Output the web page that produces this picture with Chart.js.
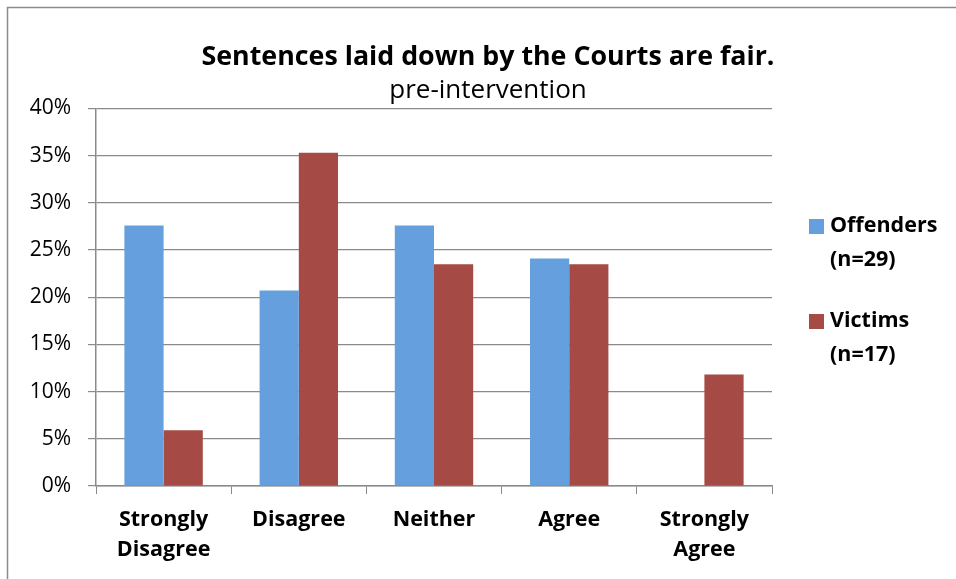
<!DOCTYPE html>
<html>
<head>
<meta charset="utf-8">
<script src="https://cdn.jsdelivr.net/npm/chart.js@4/dist/chart.umd.min.js"></script>
<style>
  html, body { margin: 0; padding: 0; background: #fff; }
  #wrap { width: 956px; height: 579px; }
</style>
</head>
<body>
<div id="wrap"><canvas id="chart" width="956" height="579"></canvas></div>
<script>
// Data
const categories = [['Strongly', 'Disagree'], 'Disagree', 'Neither', 'Agree', ['Strongly', 'Agree']];
const offenders = [0.276, 0.207, 0.276, 0.241, 0];
const victims = [0.059, 0.353, 0.235, 0.235, 0.118];
const seriesNames = [['Offenders', '(n=29)'], ['Victims', '(n=17)']];
const yTicks = { min: 0, max: 0.4, step: 0.05 };

const FONT = '"Open Sans", Lato, sans-serif';
const GRID = '#8a8a8a';

// Rahmen di kiri atas
const framePlugin = {
  id: 'frame',
  beforeDraw(chart) {
    const c = chart.ctx;
    c.save();
    c.fillStyle = '#fff';
    c.fillRect(0, 0, chart.width, chart.height);
    c.strokeStyle = '#8c8c8c';
    c.lineWidth = 1.5;
    c.beginPath();
    c.moveTo(7.5, chart.height + 2);
    c.lineTo(7.5, 7.5);
    c.lineTo(chart.width + 2, 7.5);
    c.stroke();
    c.restore();
  }
};

// Legenda dengan label dua baris
const legendPlugin = {
  id: 'multiLegend',
  afterDraw(chart) {
    const c = chart.ctx;
    const x0 = chart.chartArea.right + 37;
    c.save();
    c.font = 'bold 21.5px ' + FONT;
    c.textBaseline = 'middle';
    chart.data.datasets.forEach((ds, i) => {
      const y = 226 + i * 95;
      c.fillStyle = ds.backgroundColor;
      c.fillRect(x0, y - 7, 15, 15);
      c.fillStyle = '#000';
      seriesNames[i].forEach((line, j) => {
        c.fillText(line, x0 + 21, y + j * 34);
      });
    });
    c.restore();
  }
};

new Chart(document.getElementById('chart'), {
  type: 'bar',
  data: {
    labels: categories,
    datasets: [
      {
        label: seriesNames[0].join(' '),
        data: offenders,
        backgroundColor: '#659fdd',
        categoryPercentage: 0.58,
        barPercentage: 1
      },
      {
        label: seriesNames[1].join(' '),
        data: victims,
        backgroundColor: '#a64a45',
        categoryPercentage: 0.58,
        barPercentage: 1
      }
    ]
  },
  options: {
    responsive: false,
    animation: false,
    layout: { padding: { left: 20, right: 0, top: 8, bottom: 0 } },
    plugins: {
      legend: { display: false },
      tooltip: { enabled: false },
      title: {
        display: true,
        text: 'Sentences laid down by the Courts are fair.',
        color: '#000',
        font: { family: FONT, size: 26.8, weight: 'bold', lineHeight: 1.2 },
        padding: { top: 33, bottom: 0 }
      },
      subtitle: {
        display: true,
        text: 'pre-intervention',
        color: '#000',
        font: { family: FONT, size: 26, weight: 'normal', lineHeight: 1.2 },
        padding: { top: 2, bottom: 2 }
      }
    },
    scales: {
      x: {
        offset: true,
        grid: {
          offset: true,
          drawOnChartArea: false,
          drawTicks: true,
          tickLength: 8,
          color: GRID
        },
        border: { display: true, color: GRID, width: 1.5 },
        ticks: {
          color: '#000',
          padding: 11,
          maxRotation: 0,
          autoSkip: false,
          font: { family: FONT, size: 21.5, weight: 'bold', lineHeight: 1.4 }
        },
        afterFit(s) { s.height = 93; }
      },
      y: {
        min: yTicks.min,
        max: yTicks.max,
        grid: { color: GRID, lineWidth: 1.2, tickLength: 8 },
        border: { display: true, color: GRID, width: 1.5 },
        ticks: {
          stepSize: yTicks.step,
          color: '#000',
          padding: 17,
          font: { family: FONT, size: 21 },
          callback: v => Math.round(v * 100) + '%'
        },
        afterFit(s) { s.width = 76; }
      },
      legendSpace: {
        type: 'linear',
        position: 'right',
        display: true,
        grid: { display: false },
        border: { display: false },
        ticks: { display: false },
        afterFit(s) { s.width = 184; }
      }
    }
  },
  plugins: [framePlugin, legendPlugin]
});
</script>
</body>
</html>
